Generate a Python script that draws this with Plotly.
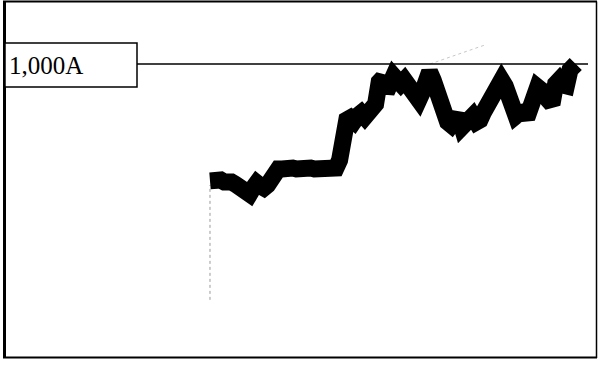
import plotly.graph_objects as go

# Sample time (arbitrary units, 0 = start of conduction)
time = list(range(0, 101)) + [101.6]

# Mean welding current at each sample (A)
current = [
    601, 604, 601, 604, 597, 601, 597, 590, 580, 570,
    563, 556, 577, 594, 584, 577, 587, 611, 638, 642,
    642, 638, 642, 645, 642, 645, 642, 642, 645, 642,
    642, 645, 642, 645, 645, 645, 672, 782, 809, 816,
    805, 823, 833, 819, 836, 843, 863, 939, 952, 904,
    925, 959, 945, 932, 945, 932, 918, 891, 877, 904,
    952, 973, 945, 894, 857, 826, 802, 792, 819, 826,
    785, 795, 809, 823, 802, 809, 836, 860, 887, 911,
    939, 945, 925, 884, 850, 823, 833, 836, 816, 850,
    898, 921, 911, 904, 877, 863, 932, 945, 928, 925,
    980, 1000,
]

# Limit current reference
limit_current = 1000
limit_label = "1,000A"

# Start-of-conduction marker
marker_time = [0, 0]
marker_current = [195, 587]

# Leader from the first limit contact
leader_time = [61.1, 76.4]
leader_current = [1000, 1065]

X_RANGE = [-58.33, 107.78]
Y_RANGE = [-27.3, 1218.4]

fig = go.Figure()

fig.add_trace(go.Scatter(
    x=marker_time, y=marker_current, mode="lines",
    line=dict(color="#9a9a9a", width=1, dash="dot"),
    hoverinfo="skip",
))

fig.add_trace(go.Scatter(
    x=leader_time, y=leader_current, mode="lines",
    line=dict(color="#c8c8c8", width=1, dash="dot"),
    hoverinfo="skip",
))

fig.add_trace(go.Scatter(
    x=time, y=current, mode="lines",
    line=dict(color="black", width=17),
    hoverinfo="skip",
))

W, H = 598, 365


def px(v):
    return v / W


def py(v):
    return 1 - v / H


shapes = [
    # outer frame
    dict(type="line", xref="paper", yref="paper", x0=px(4.5), x1=px(4.5),
         y0=py(1.5), y1=py(358), line=dict(color="black", width=3)),
    dict(type="line", xref="paper", yref="paper", x0=px(3), x1=px(597),
         y0=py(1.5), y1=py(1.5), line=dict(color="black", width=2)),
    dict(type="line", xref="paper", yref="paper", x0=px(3), x1=px(597),
         y0=py(357.5), y1=py(357.5), line=dict(color="black", width=2)),
    dict(type="line", xref="paper", yref="paper", x0=px(596.5), x1=px(596.5),
         y0=py(1.5), y1=py(358), line=dict(color="black", width=1.5)),
    # limit line
    dict(type="line", xref="paper", yref="y", x0=px(137), x1=px(588),
         y0=limit_current, y1=limit_current, line=dict(color="black", width=1.5)),
    # label box
    dict(type="rect", xref="paper", yref="paper", x0=px(5), x1=px(137),
         y0=py(87), y1=py(43), line=dict(color="black", width=1.5),
         fillcolor="white"),
]

fig.update_layout(
    width=W, height=H,
    margin=dict(l=0, r=0, t=0, b=0),
    paper_bgcolor="white", plot_bgcolor="white",
    showlegend=False,
    xaxis=dict(range=X_RANGE, visible=False, fixedrange=True),
    yaxis=dict(range=Y_RANGE, visible=False, fixedrange=True),
    shapes=shapes,
    annotations=[dict(
        text=limit_label, xref="paper", yref="paper",
        x=px(7), y=py(65), xanchor="left", yanchor="middle",
        showarrow=False,
        font=dict(family="Liberation Serif", size=25, color="black"),
    )],
)

fig.write_html("out.html")
